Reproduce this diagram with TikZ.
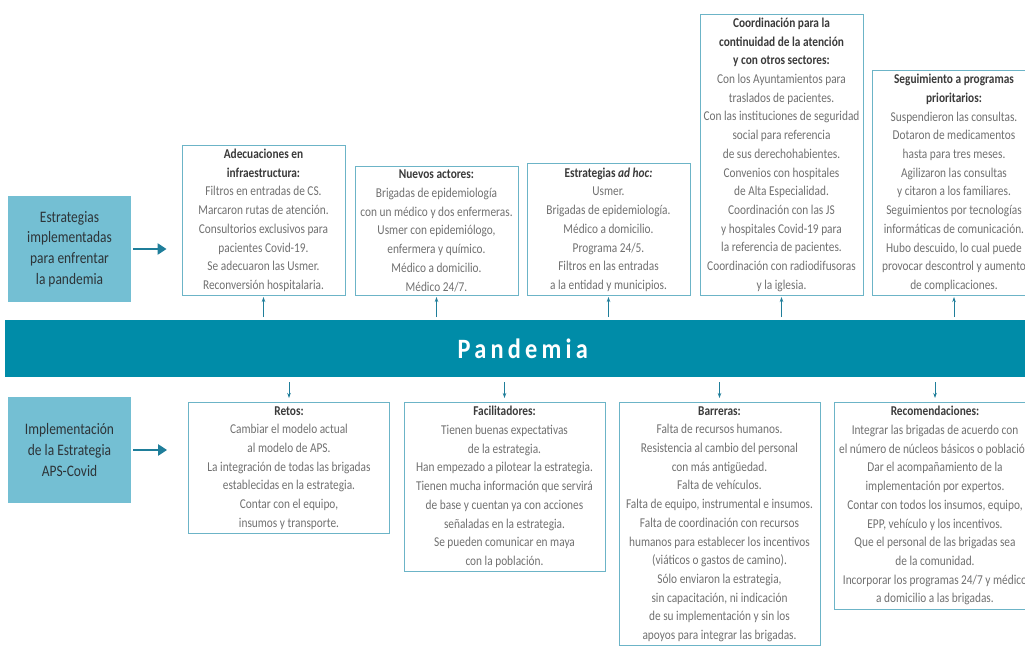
\documentclass[tikz,border=0pt]{standalone}
\usepackage{fontspec}
\setmainfont{Carlito}[FakeStretch=0.84]
\newfontfamily\bandfont{Carlito}[FakeStretch=0.87, LetterSpace=15]
\usepackage{xcolor}
\usepackage{tikz}
\usetikzlibrary{arrows.meta, positioning, calc}

\definecolor{bandteal}{RGB}{0,140,168}
\definecolor{sideblue}{RGB}{116,191,211}
\definecolor{sidetext}{RGB}{45,52,56}
\definecolor{boxline}{RGB}{108,180,199}
\definecolor{arrowteal}{RGB}{31,126,154}
\definecolor{bodygray}{RGB}{112,112,112}
\definecolor{titlegray}{RGB}{58,58,58}

\newcommand{\boxtitle}[1]{\textcolor{titlegray}{\textbf{#1}}}

\begin{document}
\begin{tikzpicture}[x=1pt, y=-1pt,
    font=\fontsize{13.5}{18.7}\selectfont,
    topbox/.style={draw=boxline, line width=0.8pt, align=center, text=bodygray,
        minimum width=163pt, inner xsep=3pt, inner ysep=4pt, anchor=south},
    lowbox/.style={topbox, minimum width=201pt, anchor=north},
    sidebox/.style={fill=sideblue, minimum width=123pt, minimum height=106pt,
        align=center, text=sidetext, font=\fontsize{16}{20.7}\selectfont},
    uparrow/.style={draw=arrowteal, line width=0.8pt,
        -{Stealth[length=5pt, width=3.5pt]}, shorten <=3pt, shorten >=1pt},
    bigarrow/.style={draw=arrowteal, line width=2.5pt,
        -{Triangle[length=9pt, width=11pt]}}]

    \useasboundingbox (0,0) rectangle (1025,650);

    % Left boxes
    \node[sidebox] (estrategias) at (69.5,249) {Estrategias\\implementadas\\para enfrentar\\la pandemia};
    \node[sidebox] (implementacion) at (69.5,450) {Implementación\\de la Estrategia\\APS-Covid};

    % Band
    \node[fill=bandteal, minimum width=1035pt, minimum height=57pt, anchor=north west,
        text=white, font=\bandfont\bfseries\fontsize{28}{32}\selectfont] (pandemia) at (5,320) {Pandemia};

    % Strategies above the band
    \node[topbox] (adecuaciones) at (263.5,296) {\boxtitle{Adecuaciones en}\\\boxtitle{infraestructura:}\\
        Filtros en entradas de CS.\\Marcaron rutas de atención.\\Consultorios exclusivos para\\
        pacientes Covid-19.\\Se adecuaron las Usmer.\\Reconversión hospitalaria.};
    \node[topbox] (actores) at (436.5,296) {\boxtitle{Nuevos actores:}\\Brigadas de epidemiología\\
        con un médico y dos enfermeras.\\Usmer con epidemiólogo,\\enfermera y químico.\\
        Médico a domicilio.\\Médico 24/7.};
    \node[topbox] (adhoc) at (608.5,296) {\boxtitle{Estrategias \textit{ad hoc:}}\\Usmer.\\
        Brigadas de epidemiología.\\Médico a domicilio.\\Programa 24/5.\\
        Filtros en las entradas\\a la entidad y municipios.};
    \node[topbox] (coordinacion) at (781.5,296) {\boxtitle{Coordinación para la}\\
        \boxtitle{continuidad de la atención}\\\boxtitle{y con otros sectores:}\\
        Con los Ayuntamientos para\\traslados de pacientes.\\Con las instituciones de seguridad\\
        social para referencia\\de sus derechohabientes.\\Convenios con hospitales\\
        de Alta Especialidad.\\Coordinación con las JS\\y hospitales Covid-19 para\\
        la referencia de pacientes.\\Coordinación con radiodifusoras\\y la iglesia.};
    \node[topbox] (seguimiento) at (954,296) {\boxtitle{Seguimiento a programas}\\
        \boxtitle{prioritarios:}\\Suspendieron las consultas.\\Dotaron de medicamentos\\
        hasta para tres meses.\\Agilizaron las consultas\\y citaron a los familiares.\\
        Seguimientos por tecnologías\\informáticas de comunicación.\\Hubo descuido, lo cual puede\\
        provocar descontrol y aumento\\de complicaciones.};

    % Implementation below the band
    \node[lowbox] (retos) at (289,402) {\boxtitle{Retos:}\\Cambiar el modelo actual\\
        al modelo de APS.\\La integración de todas las brigadas\\establecidas en la estrategia.\\
        Contar con el equipo,\\insumos y transporte.};
    \node[lowbox] (facilitadores) at (504.5,402) {\boxtitle{Facilitadores:}\\
        Tienen buenas expectativas\\de la estrategia.\\Han empezado a pilotear la estrategia.\\
        Tienen mucha información que servirá\\de base y cuentan ya con acciones\\
        señaladas en la estrategia.\\Se pueden comunicar en maya\\con la población.};
    \node[lowbox] (barreras) at (719.5,402) {\boxtitle{Barreras:}\\Falta de recursos humanos.\\
        Resistencia al cambio del personal\\con más antigüedad.\\Falta de vehículos.\\
        Falta de equipo, instrumental e insumos.\\Falta de coordinación con recursos\\
        humanos para establecer los incentivos\\(viáticos o gastos de camino).\\
        Sólo enviaron la estrategia,\\sin capacitación, ni indicación\\
        de su implementación y sin los\\apoyos para integrar las brigadas.};
    \node[lowbox] (recomendaciones) at (935,402) {\boxtitle{Recomendaciones:}\\
        Integrar las brigadas de acuerdo con\\\makebox[190pt]{el número de núcleos básicos o población}\\
        Dar el acompañamiento de la\\implementación por expertos.\\
        Contar con todos los insumos, equipo,\\EPP, vehículo y los incentivos.\\
        Que el personal de las brigadas sea\\de la comunidad.\\
        Incorporar los programas 24/7 y médico\\a domicilio a las brigadas.};

    % Arrows
    \draw[bigarrow, shorten <=2pt, shorten >=15pt] (estrategias.east) -- (estrategias.east -| adecuaciones.west);
    \draw[bigarrow, shorten <=2pt, shorten >=21pt] (implementacion.east) -- (implementacion.east -| retos.west);

    \draw[uparrow] (pandemia.north -| adecuaciones.south) -- (adecuaciones.south);
    \draw[uparrow] (pandemia.north -| actores.south) -- (actores.south);
    \draw[uparrow] (pandemia.north -| adhoc.south) -- (adhoc.south);
    \draw[uparrow] (pandemia.north -| coordinacion.south) -- (coordinacion.south);
    \draw[uparrow] (pandemia.north -| seguimiento.south) -- (seguimiento.south);

    \draw[uparrow, shorten <=5pt, shorten >=4pt] (pandemia.south -| retos.north) -- (retos.north);
    \draw[uparrow, shorten <=5pt, shorten >=4pt] (pandemia.south -| facilitadores.north) -- (facilitadores.north);
    \draw[uparrow, shorten <=5pt, shorten >=4pt] (pandemia.south -| barreras.north) -- (barreras.north);
    \draw[uparrow, shorten <=5pt, shorten >=4pt] (pandemia.south -| recomendaciones.north) -- (recomendaciones.north);
\end{tikzpicture}
\end{document}
